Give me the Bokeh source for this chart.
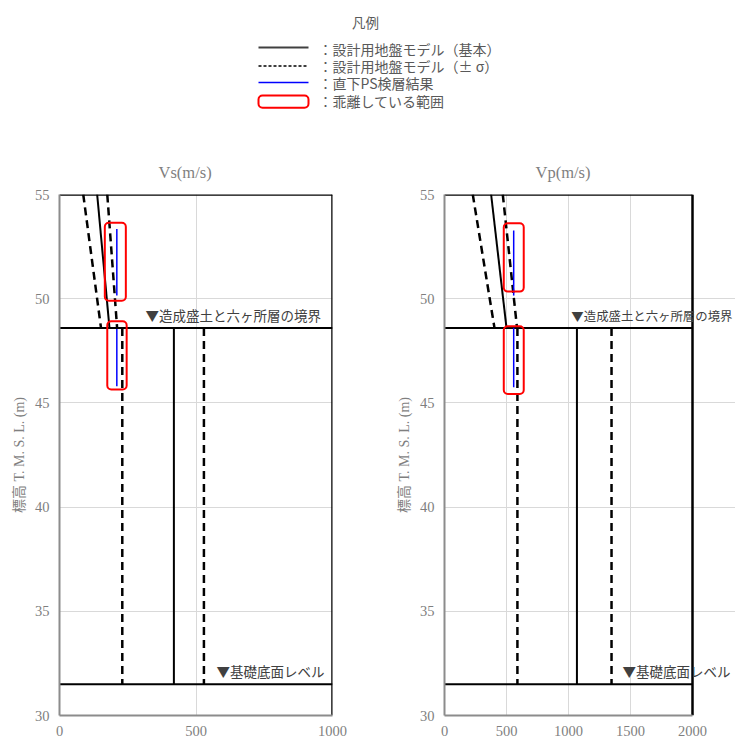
from bokeh.plotting import figure
from bokeh.layouts import column, row
from bokeh.models import Range1d, FixedTicker, Label, Title
from bokeh.core.properties import value
from bokeh.embed import file_html
from bokeh.resources import INLINE

# ---------------- data ----------------
boundary_elev = 48.6   # 造成盛土と六ヶ所層の境界
base_elev = 31.5       # 基礎底面レベル
elev_min, elev_max = 30, 55

upper_elev = [55.0, 48.6]
lower_elev = [48.6, 31.5]

vs_upper_base = [138, 183]
vs_upper_minus = [87, 152]
vs_upper_plus = [175, 211]
vs_lower_base = [419, 419]
vs_lower_minus = [230, 230]
vs_lower_plus = [529, 529]

vp_upper_base = [376, 500]
vp_upper_minus = [228, 403]
vp_upper_plus = [470, 585]
vp_lower_base = [1068, 1068]
vp_lower_minus = [588, 588]
vp_lower_plus = [1347, 1347]

vs_ps_upper_elev = [53.35, 50.15]
vs_ps_lower_elev = [48.55, 45.8]
vs_ps_upper = [210, 210]
vs_ps_lower = [210, 210]
vp_ps_upper_elev = [53.27, 50.15]
vp_ps_lower_elev = [48.6, 45.75]
vp_ps_upper = [558, 558]
vp_ps_lower = [558, 558]

vs_dev_left = [166, 175]
vs_dev_right = [243, 246]
vs_dev_bottom = [49.9, 45.64]
vs_dev_top = [53.64, 48.92]
vp_dev_left = [478, 478]
vp_dev_right = [639, 639]
vp_dev_bottom = [50.34, 45.43]
vp_dev_top = [53.62, 48.68]

y_ticks = [30, 35, 40, 45, 50, 55]
vs_ticks = [0, 500, 1000]
vp_ticks = [0, 500, 1000, 1500, 2000]

legend_labels = ["：設計用地盤モデル（基本）", "：設計用地盤モデル（± σ）",
                 "：直下PS検層結果", "：乖離している範囲"]

SERIF = "'Liberation Serif', 'Noto Sans CJK JP'"
SANS = "Noto Sans CJK JP"
GRAY = "#7f7f7f"

CH_H = 602
MB_TOP = 54
MB_BOT = 27


def make_chart(title, xmax, xticks, upper, lower, ps, dev, width, mbl, mbr, plot_px,
               title_off, bnd_x, base_x, bnd_size):
    frame_px = width - mbl - mbr
    x_end = xmax * frame_px / plot_px   # extra room right of the axis for the label text
    p = figure(width=width, height=CH_H, x_range=Range1d(0, x_end),
               y_range=Range1d(elev_min, elev_max),
               toolbar_location=None, output_backend="svg",
               min_border_left=mbl, min_border_right=mbr, min_border_top=MB_TOP,
               min_border_bottom=MB_BOT)
    p.outline_line_color = None
    p.background_fill_color = "white"
    p.border_fill_color = "white"
    p.xaxis.ticker = FixedTicker(ticks=xticks)
    p.yaxis.ticker = FixedTicker(ticks=y_ticks)
    p.xaxis.bounds = (0, xmax)
    for ax in (p.xaxis[0], p.yaxis[0]):
        ax.major_tick_line_color = None
        ax.minor_tick_line_color = None
        ax.major_tick_out = 0
        ax.major_tick_in = 0
        ax.axis_line_color = "#8c8c8c"
        ax.axis_line_width = 2
        ax.major_label_text_font = SERIF
        ax.major_label_text_font_size = "14.5px"
        ax.major_label_text_color = GRAY
    p.yaxis.major_label_standoff = 10
    p.xaxis.major_label_standoff = 10
    p.yaxis.axis_label = "標高 T. M. S. L. (m)"
    p.yaxis.axis_label_text_font = SERIF
    p.yaxis.axis_label_text_font_style = "normal"
    p.yaxis.axis_label_text_font_size = "14px"
    p.yaxis.axis_label_text_color = GRAY
    p.yaxis.axis_label_standoff = 5
    p.xgrid.grid_line_color = "#d9d9d9"
    p.ygrid.grid_line_color = "#d9d9d9"
    p.ygrid.bounds = (0, xmax)
    p.xgrid.grid_line_width = 1
    p.ygrid.grid_line_width = 1

    t = Title(text=title, align="left", offset=title_off, standoff=25, text_font=SERIF,
              text_font_style="normal", text_font_size="16.5px", text_color=GRAY)
    p.add_layout(t, "above")

    # frame top / right
    p.segment(x0=[0], y0=[elev_max], x1=[xmax], y1=[elev_max], line_color="black", line_width=2.5)
    p.segment(x0=[xmax], y0=[elev_min], x1=[xmax], y1=[elev_max], line_color="black", line_width=2.5)
    # boundaries
    p.segment(x0=[0, 0], y0=[boundary_elev, base_elev], x1=[xmax, xmax],
              y1=[boundary_elev, base_elev], line_color="black", line_width=2)

    ub, um, up = upper
    lb, lm, lp = lower
    p.line(ub, upper_elev, line_color="black", line_width=2)
    p.line(um, upper_elev, line_color="black", line_width=2.5, line_dash="8 5")
    p.line(up, upper_elev, line_color="black", line_width=2.5, line_dash="8 5")
    p.line(lb, lower_elev, line_color="black", line_width=2)
    p.line(lm, lower_elev, line_color="black", line_width=2.5, line_dash="8 5")
    p.line(lp, lower_elev, line_color="black", line_width=2.5, line_dash="8 5")

    (psu, psu_e), (psl, psl_e) = ps
    p.line(psu, psu_e, line_color="#0000ff", line_width=1.5)
    p.line(psl, psl_e, line_color="#0000ff", line_width=1.5)

    dl, dr, db, dt = dev
    p.quad(left=dl, right=dr, bottom=db, top=dt, fill_color=None, line_color="#ff0000",
           line_width=2, border_radius=4)

    p.add_layout(Label(x=bnd_x, y=boundary_elev, y_offset=3, text="▼造成盛土と六ヶ所層の境界",
                       text_align="left", text_baseline="bottom", text_font=SANS,
                       text_font_size=bnd_size, text_color="#404040"))
    p.add_layout(Label(x=base_x, y=base_elev, y_offset=3, text="▼基礎底面レベル",
                       text_align="left", text_baseline="bottom", text_font=SANS,
                       text_font_size="13.5px", text_color="#404040"))
    return p


left = make_chart("Vs(m/s)", 1000, vs_ticks,
                  (vs_upper_base, vs_upper_minus, vs_upper_plus),
                  (vs_lower_base, vs_lower_minus, vs_lower_plus),
                  ((vs_ps_upper, vs_ps_upper_elev), (vs_ps_lower, vs_ps_lower_elev)),
                  (vs_dev_left, vs_dev_right, vs_dev_bottom, vs_dev_top),
                  368, 59, 36, 273, 99, 315, 575, "13.5px")
right = make_chart("Vp(m/s)", 2000, vp_ticks,
                   (vp_upper_base, vp_upper_minus, vp_upper_plus),
                   (vp_lower_base, vp_lower_minus, vp_lower_plus),
                   ((vp_ps_upper, vp_ps_upper_elev), (vp_ps_lower, vp_ps_lower_elev)),
                   (vp_dev_left, vp_dev_right, vp_dev_bottom, vp_dev_top),
                   367, 76, 0, 248, 91, 1023, 1436, "12.4px")

# ---------------- legend ----------------
lg = figure(width=735, height=140, x_range=Range1d(0, 735), y_range=Range1d(140, 0),
            toolbar_location=None, output_backend="svg", min_border=0)
lg.axis.visible = False
lg.grid.visible = False
lg.outline_line_color = None
lg.text(x=[365], y=[21.7], text=["凡例"], text_align="center", text_baseline="middle",
        text_font=value(SANS), text_font_size="13.5px", text_color="#595959")
lg.line([258, 308], [47, 47], line_color="#404040", line_width=2)
lg.line([258, 308], [65.5, 65.5], line_color="black", line_width=1.5, line_dash="3 2")
lg.line([258, 308], [82, 82], line_color="#0000ff", line_width=1.5)
lg.quad(left=[258], right=[308], top=[95], bottom=[107.3], fill_color=None,
        line_color="#ff0000", line_width=2, border_radius=4)
lg.text(x=[318] * 4, y=[48.3, 65.7, 82.7, 100], text=legend_labels, text_baseline="middle",
        text_font=value(SANS), text_font_size="14px", text_color="#595959")

layout = column(lg, row(left, right, spacing=0), spacing=0)
open("out.html", "w").write(file_html(layout, INLINE))
